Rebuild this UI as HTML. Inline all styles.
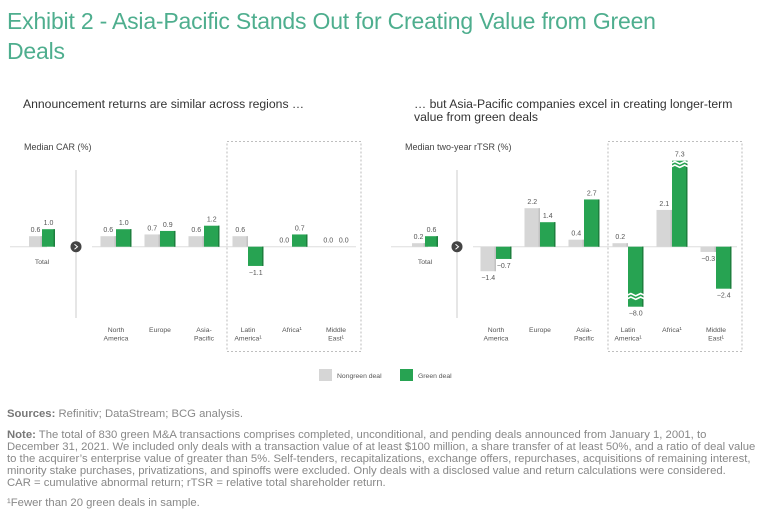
<!DOCTYPE html>
<html><head><meta charset="utf-8"><style>
body{margin:0;background:#fff;width:768px;height:521px;overflow:hidden;font-family:"Liberation Sans",sans-serif}
#t{position:absolute;left:7px;top:6px;font-size:23px;line-height:30px;color:#4eae8e;width:700px;letter-spacing:-0.2px}
.st{position:absolute;font-size:12.2px;color:#333;line-height:13px}
.ft{position:absolute;left:7px;font-size:11.3px;color:#888;line-height:12px;white-space:nowrap}
.ft b{color:#777}
</style></head><body>
<div id="t">Exhibit 2 - Asia-Pacific Stands Out for Creating Value from Green<br>Deals</div>
<div class="st" style="left:23px;top:98px">Announcement returns are similar across regions …</div>
<div class="st" style="left:414px;top:98px">… but Asia-Pacific companies excel in creating longer-term<br>value from green deals</div>
<svg id="s" width="768" height="521" style="position:absolute;left:0;top:0"></svg>
<div class="ft" style="top:408px"><b>Sources:</b> Refinitiv; DataStream; BCG analysis.</div>
<div class="ft" style="top:429px"><b>Note:</b> The total of 830 green M&amp;A transactions comprises completed, unconditional, and pending deals announced from January 1, 2001, to<br>December 31, 2021. We included only deals with a transaction value of at least $100 million, a share transfer of at least 50%, and a ratio of deal value<br>to the acquirer’s enterprise value of greater than 5%. Self-tenders, recapitalizations, exchange offers, repurchases, acquisitions of remaining interest,<br>minority stake purchases, privatizations, and spinoffs were excluded. Only deals with a disclosed value and return calculations were considered.<br>CAR = cumulative abnormal return; rTSR = relative total shareholder return.</div>
<div class="ft" style="top:497px">¹Fewer than 20 green deals in sample.</div>
<script>
const categories=["Total","North America","Europe","Asia-Pacific","Latin America¹","Africa¹","Middle East¹"];
const carNongreen=[0.6,0.6,0.7,0.6,0.6,0.0,0.0];
const carGreen=[1.0,1.0,0.9,1.2,-1.1,0.7,0.0];
const tsrNongreen=[0.2,-1.4,2.2,0.4,0.2,2.1,-0.3];
const tsrGreen=[0.6,-0.7,1.4,2.7,-8.0,7.3,-2.4];
const NS="http://www.w3.org/2000/svg";
const svg=document.getElementById('s');
function el(tag,a,p){const e=document.createElementNS(NS,tag);for(const k in a)e.setAttribute(k,a[k]);(p||svg).appendChild(e);return e;}
function txt(x,y,s,o){const e=el('text',Object.assign({x:x,y:y,'font-size':7,fill:'#555','text-anchor':'middle','font-family':'Liberation Sans, sans-serif'},o||{}));e.textContent=s;return e;}
const base=246.7, scale=17.5, maxUp=86, maxDown=60;
function drawChart(id,ox,totalX,firstX,ng,gr,ylabel){
  const g=el('g',{});
  
  
  txt(ox+24,150,ylabel,{'font-size':9,fill:'#444','text-anchor':'start'});
  el('line',{x1:ox+10,x2:ox+47,y1:base,y2:base,stroke:'#ddd','stroke-width':1},g);
  el('line',{x1:ox+92,x2:ox+356,y1:base,y2:base,stroke:'#ddd','stroke-width':1},g);
  const dx=ox+76;
  el('line',{x1:dx,x2:dx,y1:170,y2:318,stroke:'#ccc','stroke-width':1},g);
  el('circle',{cx:dx,cy:base,r:5.5,fill:'#444'},g);
  el('path',{d:`M${dx-1.5} ${base-2.5}L${dx+1.5} ${base}L${dx-1.5} ${base+2.5}`,stroke:'#fff',fill:'none','stroke-width':1},g);
  el('rect',{x:ox+227,y:141.5,width:134,height:210,fill:'none',stroke:'#aaa','stroke-dasharray':'2,2','stroke-width':0.8},g);
  categories.forEach((c,i)=>{
    const cx=i==0?totalX:firstX+44*(i-1);
    const w=i==0?13:15.5;
    [[ng[i],'#d6d6d6','#c2c2c2',cx-w,'nongreen'],[gr[i],'#27a352','#1d7f3e',cx,'green']].forEach(([v,f,edge,x,kind])=>{
      let h=Math.abs(v)*scale, broken=false;
      if(v>0&&h>maxUp){h=maxUp;broken=true;}
      if(v<0&&h>maxDown){h=maxDown;broken=true;}
      const y=v>=0?base-h:base;
      if(h>0){
        const r=el('rect',{x:x,y:y,width:w,height:h,fill:f},g);
        
        
        el('rect',{x:x+w-1.5,y:y,width:1.5,height:h,fill:edge},g);
      }
      if(broken){
        const by=v>0?y+2:y+h-12;
        for(const o of [0,3.5]){
          let d=`M${x-2} ${by+o}`;for(let k=0;k<=4;k++)d+=`L${x-2+(w+4)*k/4} ${by+o+(k%2?-1.2:1.2)}`;
          el('path',{d:d,stroke:'#fff','stroke-width':1.6,fill:'none'},g);
        }
      }
      const lab=(v<0?'−':'')+Math.abs(v).toFixed(1);
      const ly=v>=0?y-4:y+h+9;
      const t=txt(x+w/2,ly,lab,{},g);
      
      
    });
    const parts={0:['Total'],1:['North','America'],2:['Europe'],3:['Asia-','Pacific'],4:['Latin','America¹'],5:['Africa¹'],6:['Middle','East¹']}[i];
    const ly=i==0?264:332;
    parts.forEach((p,k)=>{const t=txt(cx,ly+k*8.5,p,{'font-size':6.8});
      
      });
  });
}
drawChart('car-chart',0,42,116,carNongreen,carGreen,'Median CAR (%)');
drawChart('rtsr-chart',381,425,496,tsrNongreen,tsrGreen,'Median two-year rTSR (%)');
const l1=el('rect',{x:319,y:369,width:13,height:12,fill:'#d6d6d6'});


txt(337,378,'Nongreen deal',{'text-anchor':'start','font-size':6.8});
const l2=el('rect',{x:400,y:369,width:13,height:12,fill:'#27a352'});


txt(418,378,'Green deal',{'text-anchor':'start','font-size':6.8});
</script>
</body></html>
